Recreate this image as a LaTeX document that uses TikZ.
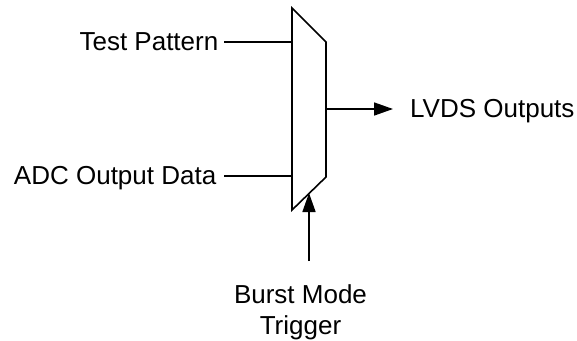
\documentclass[tikz,border=0pt]{standalone}
\usepackage{fontspec}
\setmainfont{Liberation Sans}
\usetikzlibrary{arrows.meta}
\tikzset{lbl/.style={inner sep=0pt,font=\fontsize{26}{31}\selectfont,align=center},
 wire/.style={line width=1.6pt,black},
 arr/.style={wire,-{Triangle[length=19pt,width=13pt]}}}
\begin{document}
\begin{tikzpicture}[x=1pt,y=-1pt]
\useasboundingbox (0,0) rectangle (577,340);
\draw[wire,line join=miter] (292,8) -- (326,42) -- (326,177) -- (292,210) -- cycle;
\node[lbl,anchor=base east] (tp) at (218.5,50) {Test Pattern};
\node[lbl,anchor=base east] (adc) at (216.5,184) {ADC Output Data};
\node[lbl,anchor=base west] (lvds) at (410,117) {LVDS Outputs};
\node[lbl,anchor=base] (bm) at (300.5,334) {Burst Mode\\Trigger};
\coordinate (a) at (292,42);
\coordinate (b) at (292,176);
\coordinate (a0) at (224,42);
\coordinate (b0) at (224,176);
\coordinate (c) at (326,109);
\coordinate (d) at (393,109);
\coordinate (e) at (309,261);
\coordinate (f) at (309,193);
\draw[wire] (a0) -- (a);
\draw[wire] (b0) -- (b);
\draw[arr] (c) -- (d);
\draw[arr] (e) -- (f);
\end{tikzpicture}
\end{document}
